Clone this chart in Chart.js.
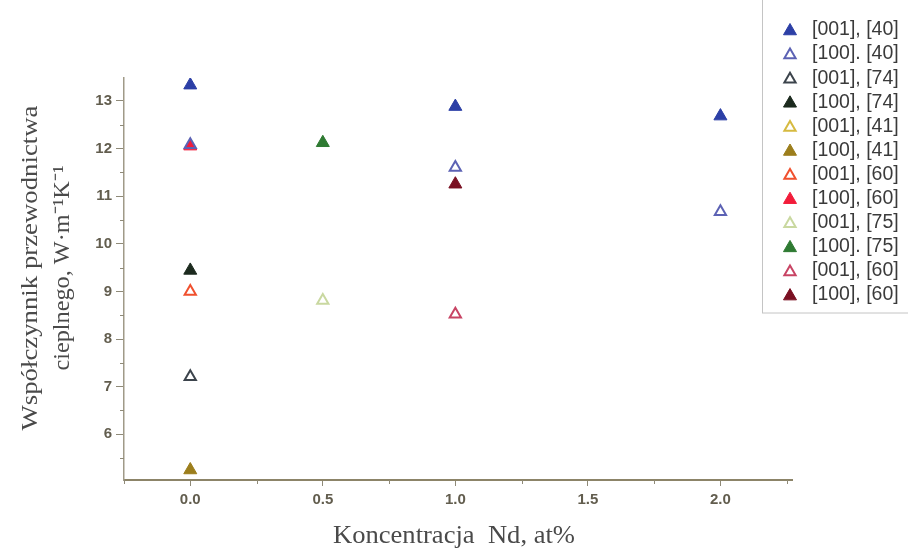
<!DOCTYPE html>
<html>
<head>
<meta charset="utf-8">
<script src="https://cdn.jsdelivr.net/npm/chart.js@4"></script>
<style>
html,body{margin:0;padding:0;background:#fff;}
#wrap{width:908px;height:549px;position:relative;}
</style>
</head>
<body>
<div id="wrap"><canvas id="c" width="908" height="549"></canvas></div>
<script>
// ---- data ----
const seriesLabels = ['[001], [40]', '[100]. [40]', '[001], [74]', '[100], [74]', '[001], [41]', '[100], [41]',
                      '[001], [60]', '[100], [60]', '[001], [75]', '[100]. [75]', '[001], [60]', '[100], [60]'];
const seriesColors = ['#2c3fa6', '#5c62b4', '#3c444c', '#1c2a1e', '#d6ba40', '#9c7e1c',
                      '#f0502e', '#f21c3a', '#c9d8a0', '#2e7a32', '#c84464', '#7a1022'];
const seriesFilled = [true, false, false, true, false, true, false, true, false, true, false, true];

const conc_001_40 = [0.0, 1.0, 2.0];   const k_001_40 = [13.33, 12.88, 12.68];
const conc_100_40 = [0.0, 1.0, 2.0];   const k_100_40 = [12.08, 11.60, 10.67];
const conc_001_74 = [0.0];             const k_001_74 = [7.21];
const conc_100_74 = [0.0];             const k_100_74 = [9.44];
const conc_001_41 = [];                const k_001_41 = [];
const conc_100_41 = [0.0];             const k_100_41 = [5.25];
const conc_001_60a = [0.0];            const k_001_60a = [9.00];
const conc_100_60a = [0.0];            const k_100_60a = [12.05];
const conc_001_75 = [0.5];             const k_001_75 = [8.81];
const conc_100_75 = [0.5];             const k_100_75 = [12.12];
const conc_001_60b = [1.0];            const k_001_60b = [8.52];
const conc_100_60b = [1.0];            const k_100_60b = [11.25];

const seriesX = [conc_001_40, conc_100_40, conc_001_74, conc_100_74, conc_001_41, conc_100_41,
                 conc_001_60a, conc_100_60a, conc_001_75, conc_100_75, conc_001_60b, conc_100_60b];
const seriesY = [k_001_40, k_100_40, k_001_74, k_100_74, k_001_41, k_100_41,
                 k_001_60a, k_100_60a, k_001_75, k_100_75, k_001_60b, k_100_60b];

const xTicks = [0.0, 0.5, 1.0, 1.5, 2.0];
const yTicks = [6, 7, 8, 9, 10, 11, 12, 13];
const xMinorTicks = [-0.25, 0.25, 0.75, 1.25, 1.75, 2.25];
const yMinorTicks = [5.5, 6.5, 7.5, 8.5, 9.5, 10.5, 11.5, 12.5];

const xTitle = 'Koncentracja  Nd, at%';
const yTitleLines = ['Współczynnik przewodnictwa', 'cieplnego, W·m⁻¹K⁻¹'];

// ---- chart ----
const datasets = seriesLabels.map((lab, i) => ({
  label: lab,
  data: seriesX[i].map((x, j) => ({x: x, y: seriesY[i][j]})),
  pointStyle: 'triangle',
  pointRadius: seriesFilled[i] ? 7.5 : 6.5,
  pointHoverRadius: 7,
  pointBorderWidth: seriesFilled[i] ? 1 : 2,
  borderColor: seriesColors[i],
  backgroundColor: seriesFilled[i] ? seriesColors[i] : 'rgba(255,255,255,0)',
  showLine: false
}));

function triangle(ctx, x, y, r) {
  const s = Math.sin(2 * Math.PI / 3), c = Math.cos(2 * Math.PI / 3);
  ctx.beginPath();
  ctx.moveTo(x, y - r);
  ctx.lineTo(x + s * r, y - c * r);
  ctx.lineTo(x - s * r, y - c * r);
  ctx.closePath();
}

const extras = {
  id: 'extras',
  beforeDraw(chart) {
    const ctx = chart.ctx;
    ctx.save();
    ctx.fillStyle = '#fff';
    ctx.fillRect(0, 0, chart.width, chart.height);
    ctx.restore();
  },
  afterDraw(chart) {
    const ctx = chart.ctx;
    const xs = chart.scales.x, ys = chart.scales.y;
    const ca = chart.chartArea;
    ctx.save();
    // minor ticks
    ctx.strokeStyle = '#8f8a78';
    ctx.lineWidth = 1;
    yMinorTicks.forEach(v => {
      const py = Math.round(ys.getPixelForValue(v)) + 0.5;
      ctx.beginPath(); ctx.moveTo(ca.left - 4, py); ctx.lineTo(ca.left, py); ctx.stroke();
    });
    xMinorTicks.forEach(v => {
      const px = Math.round(xs.getPixelForValue(v)) + 0.5;
      ctx.beginPath(); ctx.moveTo(px, ca.bottom); ctx.lineTo(px, ca.bottom + 4); ctx.stroke();
    });
    // axis titles
    ctx.fillStyle = '#4a4a4a';
    ctx.textAlign = 'center';
    ctx.textBaseline = 'middle';
    ctx.font = '25px "Liberation Serif", "Times New Roman", serif';
    ctx.save();
    ctx.translate(454, 536);
    const xw = ctx.measureText(xTitle).width;
    ctx.scale(242 / xw, 1);
    ctx.fillText(xTitle, 0, 0);
    ctx.restore();
    ctx.font = '23px "Liberation Serif", "Times New Roman", serif';
    const yCenters = [31, 63];
    const yLens = [325, 205];
    yTitleLines.forEach((t, i) => {
      ctx.save();
      ctx.translate(yCenters[i], 268);
      ctx.rotate(-Math.PI / 2);
      const w = ctx.measureText(t).width;
      ctx.scale(yLens[i] / w, 1);
      ctx.fillText(t, 0, 0);
      ctx.restore();
    });
    // legend
    ctx.fillStyle = '#fff';
    ctx.fillRect(762, 0, 146, 313);
    ctx.strokeStyle = '#c4c4c4';
    ctx.lineWidth = 1;
    ctx.strokeRect(762.5, -1, 147, 314);
    ctx.font = '19.5px "Liberation Sans", Arial, sans-serif';
    ctx.textAlign = 'left';
    ctx.textBaseline = 'middle';
    chart.data.datasets.forEach((ds, i) => {
      const cy = 30 + i * 24.1;
      const filled = seriesFilled[i];
      triangle(ctx, 790, cy + 1, filled ? 7.5 : 6.5);
      if (filled) { ctx.fillStyle = ds.backgroundColor; ctx.fill(); }
      ctx.strokeStyle = ds.borderColor;
      ctx.lineWidth = filled ? 1 : 2;
      ctx.stroke();
      ctx.fillStyle = '#3a3a3a';
      ctx.fillText(ds.label, 812, cy);
    });
    ctx.restore();
  }
};

new Chart(document.getElementById('c'), {
  type: 'scatter',
  data: { datasets: datasets },
  options: {
    responsive: false,
    devicePixelRatio: 1,
    animation: false,
    layout: { padding: { left: 0, top: 78, right: 116, bottom: 0 } },
    plugins: { legend: { display: false }, tooltip: { enabled: false } },
    scales: {
      x: {
        type: 'linear',
        min: -0.25, max: 2.27,
        afterFit(s) { s.height = 69; },
        afterBuildTicks(s) { s.ticks = xTicks.map(v => ({value: v})); },
        border: { display: true, color: '#8c8468', width: 2 },
        grid: { drawOnChartArea: false, drawTicks: true, tickLength: 6, color: '#8f8a78' },
        ticks: {
          padding: 5,
          color: '#625d4e',
          font: { family: '"Liberation Sans", Arial, sans-serif', size: 15, weight: 'bold' },
          callback: v => Number(v).toFixed(1)
        }
      },
      y: {
        type: 'linear',
        min: 5.04, max: 13.48,
        afterFit(s) { s.width = 124; },
        afterBuildTicks(s) { s.ticks = yTicks.map(v => ({value: v})); },
        border: { display: true, color: '#a09a88', width: 1.5 },
        grid: { drawOnChartArea: false, drawTicks: true, tickLength: 8, color: '#8f8a78' },
        ticks: {
          padding: 4,
          color: '#625d4e',
          font: { family: '"Liberation Sans", Arial, sans-serif', size: 15, weight: 'bold' },
          callback: v => String(v)
        }
      }
    }
  },
  plugins: [extras]
});
</script>
</body>
</html>
